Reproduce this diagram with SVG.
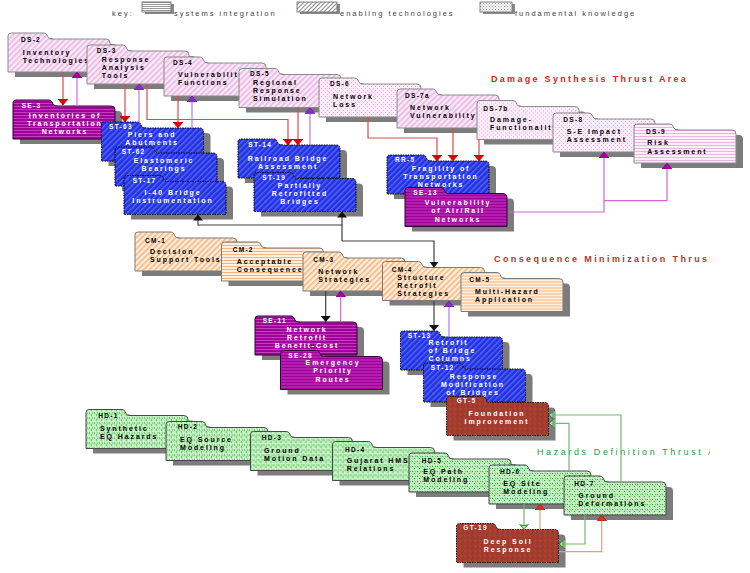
<svg xmlns="http://www.w3.org/2000/svg" xmlns:xlink="http://www.w3.org/1999/xlink" width="750" height="573" viewBox="0 0 750 573">
<defs>
<style>
text{font-family:"Liberation Sans",Arial,sans-serif;font-weight:bold;}
.lbl{font-size:6.5px;letter-spacing:1.3px;}
.t{font-size:7px;letter-spacing:1.9px;}
.w{fill:#ffffff;}
.k{fill:#000000;}
.c{text-anchor:middle;}
.sh{fill:#7c7c7c;}
.ds-diag{fill:url(#pinkDiag);stroke:#8a8a8a;stroke-width:1;}
.ds-dot{fill:url(#pinkDot);stroke:#8a8a8a;stroke-width:1;}
.ds-hor{fill:url(#pinkHoriz);stroke:#8a8a8a;stroke-width:1;}
.se{fill:url(#magHoriz);stroke:#300030;stroke-width:1;}
.st{fill:url(#blueDiag);stroke:#000010;stroke-width:1;stroke-dasharray:1.5 1;}
.cm-diag{fill:url(#peachDiag);stroke:#7a7a7a;stroke-width:1;}
.cm-hor{fill:url(#peachHoriz);stroke:#7a7a7a;stroke-width:1;}
.hd{fill:url(#greenDot);stroke:#4a4a4a;stroke-width:1;}
.gt{fill:url(#brownDot);stroke:#1a0000;stroke-width:1;stroke-dasharray:1.5 1;}
.title{font-size:9px;letter-spacing:2.3px;}
.key{font-weight:normal;font-size:7.5px;letter-spacing:2px;fill:#444444;}
#connectors path{fill:none;stroke-width:1.2;}
.red{stroke:#e04848;marker-end:url(#mRed);}
.vio{stroke:#b27ae6;marker-end:url(#mVio);}
.mag{stroke:#d464d4;marker-end:url(#mMag);}
.blk{stroke:#404040;marker-end:url(#mBlk);}
.grn{stroke:#74b874;marker-end:url(#mGrn);}
.brn{stroke:#d8a080;marker-end:url(#mBrn);}
</style>
<path id="folder" d="M0,3 Q0,0 3,0 H36 Q38,0 39,2 L40,4 Q41,6 43,6 H98 Q102,6 102,10 V39 H0 Z"/>
<pattern id="pinkDiag" width="4" height="4" patternUnits="userSpaceOnUse" patternTransform="rotate(-45)"><rect width="4" height="4" fill="#fbeaf8"/><rect width="4" height="1.6" fill="#e9b6e3"/></pattern>
<pattern id="pinkDot" width="4" height="4" patternUnits="userSpaceOnUse"><rect width="4" height="4" fill="#fbedf9"/><rect x="0" y="0" width="1" height="1" fill="#e2aada"/><rect x="2" y="2" width="1" height="1" fill="#e2aada"/></pattern>
<pattern id="pinkHoriz" width="3" height="3" patternUnits="userSpaceOnUse"><rect width="3" height="3" fill="#fdf0fa"/><rect width="3" height="1" fill="#e8b4e2"/></pattern>
<pattern id="magHoriz" width="3" height="3" patternUnits="userSpaceOnUse"><rect width="3" height="3" fill="#a0009a"/><rect width="3" height="1" fill="#c43cc0"/></pattern>
<pattern id="blueDiag" width="4" height="4" patternUnits="userSpaceOnUse" patternTransform="rotate(-45)"><rect width="4" height="4" fill="#2232e2"/><rect width="4" height="1.4" fill="#5566f5"/></pattern>
<pattern id="peachDiag" width="4" height="4" patternUnits="userSpaceOnUse" patternTransform="rotate(-45)"><rect width="4" height="4" fill="#ffeedd"/><rect width="4" height="1.6" fill="#f6b67e"/></pattern>
<pattern id="peachHoriz" width="3" height="3" patternUnits="userSpaceOnUse"><rect width="3" height="3" fill="#fff0e0"/><rect width="3" height="1" fill="#f4b47c"/></pattern>
<pattern id="greenDot" width="5" height="5" patternUnits="userSpaceOnUse"><rect width="5" height="5" fill="#b6eeb6"/><rect x="0" y="0" width="1" height="1" fill="#3a9a3a"/><rect x="2" y="1" width="1" height="1" fill="#ffffff"/><rect x="3" y="3" width="1" height="1" fill="#3a9a3a"/><rect x="1" y="3" width="1" height="1" fill="#6cc06c"/><rect x="4" y="2" width="1" height="1" fill="#ffffff"/></pattern>
<pattern id="brownDot" width="5" height="5" patternUnits="userSpaceOnUse"><rect width="5" height="5" fill="#a63e28"/><rect x="0" y="0" width="1" height="1" fill="#6a2e8a"/><rect x="3" y="2" width="1" height="1" fill="#dc4a34"/><rect x="1" y="3" width="1" height="1" fill="#7a2a6a"/></pattern>
<pattern id="keyHoriz" width="2" height="2" patternUnits="userSpaceOnUse"><rect width="2" height="2" fill="#ffffff"/><rect width="2" height="1" fill="#9a9a9a"/></pattern>
<pattern id="keyDiag" width="3" height="3" patternUnits="userSpaceOnUse" patternTransform="rotate(-45)"><rect width="3" height="3" fill="#ffffff"/><rect width="3" height="1" fill="#8a8a8a"/></pattern>
<pattern id="keyDot" width="3" height="3" patternUnits="userSpaceOnUse"><rect width="3" height="3" fill="#ffffff"/><rect x="0" y="0" width="1" height="1" fill="#9a9a9a"/><rect x="1.5" y="1.5" width="1" height="1" fill="#9a9a9a"/></pattern>
<marker id="mRed" viewBox="0 0 6 10" refX="6" refY="5" markerWidth="6" markerHeight="10" markerUnits="userSpaceOnUse" orient="auto"><path d="M0,0 L6,5 L0,10 Z" fill="#e40000" stroke="#900000" stroke-width="0.6"/></marker>
<marker id="mVio" viewBox="0 0 6 10" refX="6" refY="5" markerWidth="6" markerHeight="10" markerUnits="userSpaceOnUse" orient="auto"><path d="M0,0 L6,5 L0,10 Z" fill="#8a2ad0" stroke="#5a108a" stroke-width="0.6"/></marker>
<marker id="mMag" viewBox="0 0 6 10" refX="6" refY="5" markerWidth="6" markerHeight="10" markerUnits="userSpaceOnUse" orient="auto"><path d="M0,0 L6,5 L0,10 Z" fill="#a800a8" stroke="#700070" stroke-width="0.6"/></marker>
<marker id="mBlk" viewBox="0 0 6 10" refX="6" refY="5" markerWidth="6" markerHeight="10" markerUnits="userSpaceOnUse" orient="auto"><path d="M0,0 L6,5 L0,10 Z" fill="#111111"/></marker>
<marker id="mGrn" viewBox="0 0 6 10" refX="6" refY="5" markerWidth="6" markerHeight="10" markerUnits="userSpaceOnUse" orient="auto"><path d="M0,0 L6,5 L0,10 Z M2,2 V8" fill="#a8e0a8" stroke="#2a7a2a" stroke-width="0.8"/></marker>
<marker id="mBrn" viewBox="0 0 6 10" refX="6" refY="5" markerWidth="6" markerHeight="10" markerUnits="userSpaceOnUse" orient="auto"><path d="M0,0 L6,5 L0,10 Z" fill="#e03020" stroke="#902010" stroke-width="0.6"/></marker>
<clipPath id="clipT"><rect x="0" y="0" width="710" height="573"/></clipPath>
</defs>
<rect width="750" height="573" fill="#ffffff"/>

<g id="key">
<text class="key" x="112" y="15.5">key:</text>
<rect x="145" y="4" width="29" height="10" fill="#8a8a8a"/>
<rect x="142" y="2" width="29" height="10" fill="url(#keyHoriz)" stroke="#666666" stroke-width="0.8"/>
<text class="key" x="174" y="15.5">systems integration</text>
<rect x="300" y="4" width="40" height="10" fill="#8a8a8a"/>
<rect x="297" y="2" width="40" height="10" fill="url(#keyDiag)" stroke="#666666" stroke-width="0.8"/>
<text class="key" x="340" y="15.5">enabling technologies</text>
<rect x="483" y="4" width="32" height="10" fill="#8a8a8a"/>
<rect x="480" y="2" width="32" height="10" fill="url(#keyDot)" stroke="#666666" stroke-width="0.8"/>
<text class="key" x="515" y="15.5">fundamental knowledge</text>
</g>

<g id="titles">
<text class="title" x="491" y="82" fill="#e02020">Damage Synthesis Thrust Area</text>
<text class="title" x="494" y="262" fill="#b03a22" clip-path="url(#clipT)" style="letter-spacing:2.4px">Consequence Minimization Thrust</text>
<text class="title" x="537" y="455" fill="#2a9a3a" clip-path="url(#clipT)" style="font-weight:normal;letter-spacing:2.6px">Hazards Definition Thrust A</text>
</g>

<g id="DS-2"><use xlink:href="#folder" class="sh" x="15" y="38"/><use xlink:href="#folder" class="ds-diag" x="8" y="33"/>
<text class="lbl" x="21" y="41.5">DS-2</text><text class="t" x="22.7" y="54.5">Inventory</text><text class="t" x="22.7" y="62.5">Technologies</text></g>
<g id="DS-3"><use xlink:href="#folder" class="sh" x="94" y="50"/><use xlink:href="#folder" class="ds-diag" x="87" y="45"/>
<text class="lbl" x="96.7" y="53">DS-3</text><text class="t" x="101.7" y="61.5">Response</text><text class="t" x="101.7" y="69.5">Analysis</text><text class="t" x="101.7" y="77.5">Tools</text></g>
<g id="DS-4"><use xlink:href="#folder" class="sh" x="171" y="62"/><use xlink:href="#folder" class="ds-diag" x="164" y="57"/>
<text class="lbl" x="173" y="64.5">DS-4</text><text class="t" x="178" y="76.5">Vulnerability</text><text class="t" x="178" y="85">Functions</text></g>
<g id="DS-5"><use xlink:href="#folder" class="sh" x="246" y="73.5"/><use xlink:href="#folder" class="ds-diag" x="239" y="68.5"/>
<text class="lbl" x="250" y="75.5">DS-5</text><text class="t" x="253" y="84.5">Regional</text><text class="t" x="253" y="92.5">Response</text><text class="t" x="253" y="100.5">Simulation</text></g>
<g id="DS-6"><use xlink:href="#folder" class="sh" x="326" y="83"/><use xlink:href="#folder" class="ds-dot" x="319" y="78"/>
<text class="lbl" x="330" y="86">DS-6</text><text class="t" x="333" y="99">Network</text><text class="t" x="333" y="107">Loss</text></g>
<g id="DS-7a"><use xlink:href="#folder" class="sh" x="404" y="94"/><use xlink:href="#folder" class="ds-diag" x="397" y="89"/>
<text class="lbl" x="405" y="97.5">DS-7a</text><text class="t" x="410" y="110">Network</text><text class="t" x="410" y="118">Vulnerability</text></g>
<g id="DS-7b"><use xlink:href="#folder" class="sh" x="484" y="105.5"/><use xlink:href="#folder" class="ds-dot" x="477" y="100.5"/>
<text class="lbl" x="483.3" y="111">DS-7b</text><text class="t" x="490" y="122">Damage-</text><text class="t" x="490" y="130">Functionality</text></g>
<g id="DS-8"><use xlink:href="#folder" class="sh" x="560" y="118"/><use xlink:href="#folder" class="ds-dot" x="553" y="113"/>
<text class="lbl" x="563.3" y="122">DS-8</text><text class="t" x="566.7" y="133.5">S-E Impact</text><text class="t" x="566.7" y="142">Assessment</text></g>
<g id="DS-9"><use xlink:href="#folder" class="sh" x="641" y="129"/><use xlink:href="#folder" class="ds-hor" x="634" y="124"/>
<text class="lbl" x="646" y="133.5">DS-9</text><text class="t" x="647.3" y="145.2">Risk</text><text class="t" x="647.3" y="153.5">Assessment</text></g>

<g id="SE-3"><use xlink:href="#folder" class="sh" x="20" y="105"/><use xlink:href="#folder" class="se" x="13" y="100"/>
<text class="lbl w" x="21.7" y="107.5">SE-3</text><text class="t w c" x="65" y="117.5">Inventories of</text><text class="t w c" x="65" y="125.5">Transportation</text><text class="t w c" x="65" y="133.5">Networks</text></g>

<g id="ST-63"><use xlink:href="#folder" class="sh" x="108.5" y="127"/><use xlink:href="#folder" class="st" x="101.5" y="122"/>
<text class="lbl w" x="109" y="129">ST-63</text><text class="t w c" x="152" y="137">Piers and</text><text class="t w c" x="152" y="145">Abutments</text></g>
<g id="ST-62"><use xlink:href="#folder" class="sh" x="122" y="152"/><use xlink:href="#folder" class="st" x="115" y="147"/>
<text class="lbl w" x="121.7" y="154">ST-62</text><text class="t w c" x="164" y="162.5">Elastomeric</text><text class="t w c" x="164" y="170.5">Bearings</text></g>
<g id="ST-17"><use xlink:href="#folder" class="sh" x="131" y="180.5"/><use xlink:href="#folder" class="st" x="124" y="175.5"/>
<text class="lbl w" x="132.7" y="182.5">ST-17</text><text class="t w c" x="173" y="195">I-40 Bridge</text><text class="t w c" x="173" y="203">Instrumentation</text></g>
<g id="ST-14"><use xlink:href="#folder" class="sh" x="245" y="144"/><use xlink:href="#folder" class="st" x="238" y="139"/>
<text class="lbl w" x="248.3" y="146.5">ST-14</text><text class="t w c" x="288" y="161">Railroad Bridge</text><text class="t w c" x="288" y="169">Assessment</text></g>
<g id="ST-19"><use xlink:href="#folder" class="sh" x="261" y="177.5"/><use xlink:href="#folder" class="st" x="254" y="172.5"/>
<text class="lbl w" x="262.3" y="180">ST-19</text><text class="t w c" x="300" y="188">Partially</text><text class="t w c" x="300" y="196.2">Retrofitted</text><text class="t w c" x="300" y="204.3">Bridges</text></g>
<g id="RR-5"><use xlink:href="#folder" class="sh" x="394" y="160"/><use xlink:href="#folder" class="st" x="387" y="155"/>
<text class="lbl w" x="395" y="162">RR-5</text><text class="t w c" x="441" y="170.5">Fragility of</text><text class="t w c" x="441" y="179">Transportation</text><text class="t w c" x="441" y="187">Networks</text></g>
<g id="SE-13"><use xlink:href="#folder" class="sh" x="412" y="192.5"/><use xlink:href="#folder" class="se" x="405" y="187.5"/>
<text class="lbl w" x="413.3" y="195">SE-13</text><text class="t w c" x="458" y="205.3">Vulnerability</text><text class="t w c" x="458" y="213.3">of Air/Rail</text><text class="t w c" x="458" y="221.5">Networks</text></g>

<g id="CM-1"><use xlink:href="#folder" class="sh" x="142" y="237"/><use xlink:href="#folder" class="cm-diag" x="135" y="232"/>
<text class="lbl" x="145" y="242.5">CM-1</text><text class="t" x="150" y="254.2">Decision</text><text class="t" x="150" y="262">Support Tools</text></g>
<g id="CM-2"><use xlink:href="#folder" class="sh" x="228.5" y="247"/><use xlink:href="#folder" class="cm-hor" x="221.5" y="242"/>
<text class="lbl" x="232.7" y="252">CM-2</text><text class="t" x="236.7" y="263.5">Acceptable</text><text class="t" x="236.7" y="272">Consequences</text></g>
<g id="CM-3"><use xlink:href="#folder" class="sh" x="310" y="257"/><use xlink:href="#folder" class="cm-diag" x="303" y="252"/>
<text class="lbl" x="313.3" y="262">CM-3</text><text class="t" x="318.3" y="273.5">Network</text><text class="t" x="318.3" y="282">Strategies</text></g>
<g id="CM-4"><use xlink:href="#folder" class="sh" x="389.5" y="266.5"/><use xlink:href="#folder" class="cm-diag" x="382.5" y="261.5"/>
<text class="lbl" x="391.7" y="272">CM-4</text><text class="t" x="397.3" y="279.5">Structure</text><text class="t" x="397.3" y="287.5">Retrofit</text><text class="t" x="397.3" y="295.5">Strategies</text></g>
<g id="CM-5"><use xlink:href="#folder" class="sh" x="468" y="277.5"/><use xlink:href="#folder" class="cm-hor" x="461" y="272.5"/>
<text class="lbl" x="469.3" y="282">CM-5</text><text class="t" x="475" y="294">Multi-Hazard</text><text class="t" x="475" y="302.2">Application</text></g>

<g id="SE-11"><use xlink:href="#folder" class="sh" x="262" y="321"/><use xlink:href="#folder" class="se" x="255" y="316"/>
<text class="lbl w" x="262.7" y="323.3">SE-11</text><text class="t w c" x="307" y="332">Network</text><text class="t w c" x="307" y="340.2">Retrofit</text><text class="t w c" x="307" y="348.3">Benefit-Cost</text></g>
<g id="SE-28"><use xlink:href="#folder" class="sh" x="287.5" y="355.5"/><use xlink:href="#folder" class="se" x="280.5" y="350.5"/>
<text class="lbl w" x="288.3" y="357.7">SE-28</text><text class="t w c" x="333" y="365">Emergency</text><text class="t w c" x="333" y="373.3">Priority</text><text class="t w c" x="333" y="381.5">Routes</text></g>

<g id="ST-13"><use xlink:href="#folder" class="sh" x="407.5" y="336"/><use xlink:href="#folder" class="st" x="400.5" y="331"/>
<text class="lbl w" x="407.7" y="338.3">ST-13</text><text class="t w" x="428.5" y="345.3">Retrofit</text><text class="t w" x="428.5" y="353.3">of Bridge</text><text class="t w" x="428.5" y="361">Columns</text></g>
<g id="ST-12"><use xlink:href="#folder" class="sh" x="430.5" y="368"/><use xlink:href="#folder" class="st" x="423.5" y="363"/>
<text class="lbl w" x="430.7" y="370.3">ST-12</text><text class="t w c" x="474" y="378.5">Response</text><text class="t w c" x="473" y="386.8">Modification</text><text class="t w c" x="473" y="394.8">of Bridges</text></g>
<g id="GT-5"><use xlink:href="#folder" class="sh" x="453.5" y="401.5"/><use xlink:href="#folder" class="gt" x="446.5" y="396.5"/>
<text class="lbl w" x="456.7" y="403">GT-5</text><text class="t w c" x="497" y="416.3">Foundation</text><text class="t w c" x="497" y="424">Improvement</text></g>

<g id="HD-1"><use xlink:href="#folder" class="sh" x="93" y="414.5"/><use xlink:href="#folder" class="hd" x="86" y="409.5"/>
<text class="lbl" x="98.3" y="418.3">HD-1</text><text class="t" x="100" y="431">Synthetic</text><text class="t" x="100" y="438.7">EQ Hazards</text></g>
<g id="HD-2"><use xlink:href="#folder" class="sh" x="173" y="426.5"/><use xlink:href="#folder" class="hd" x="166" y="421.5"/>
<text class="lbl" x="177.7" y="429.3">HD-2</text><text class="t" x="180" y="442">EQ Source</text><text class="t" x="180" y="450">Modeling</text></g>
<g id="HD-3"><use xlink:href="#folder" class="sh" x="257.5" y="436.5"/><use xlink:href="#folder" class="hd" x="250.5" y="431.5"/>
<text class="lbl" x="261.7" y="440.3">HD-3</text><text class="t" x="264" y="452.7">Ground</text><text class="t" x="264" y="461">Motion Data</text></g>
<g id="HD-4"><use xlink:href="#folder" class="sh" x="339.5" y="446.5"/><use xlink:href="#folder" class="hd" x="332.5" y="441.5"/>
<text class="lbl" x="345" y="451.5">HD-4</text><text class="t" x="346.7" y="463.3">Gujarat HMS</text><text class="t" x="346.7" y="471">Relations</text></g>
<g id="HD-5"><use xlink:href="#folder" class="sh" x="416" y="458"/><use xlink:href="#folder" class="hd" x="409" y="453"/>
<text class="lbl" x="421.7" y="462.5">HD-5</text><text class="t" x="423.3" y="474">EQ Path</text><text class="t" x="423.3" y="482">Modeling</text></g>
<g id="HD-6"><use xlink:href="#folder" class="sh" x="496" y="470"/><use xlink:href="#folder" class="hd" x="489" y="465"/>
<text class="lbl" x="500" y="474.3">HD-6</text><text class="t" x="503.3" y="486">EQ Site</text><text class="t" x="503.3" y="493.8">Modeling</text></g>
<g id="HD-7"><use xlink:href="#folder" class="sh" x="571" y="481"/><use xlink:href="#folder" class="hd" x="564" y="476"/>
<text class="lbl" x="574.3" y="486">HD-7</text><text class="t" x="578.3" y="498.3">Ground</text><text class="t" x="578.3" y="506">Deformations</text></g>
<g id="GT-19"><use xlink:href="#folder" class="sh" x="463.5" y="528.5"/><use xlink:href="#folder" class="gt" x="456.5" y="523.5"/>
<text class="lbl w" x="463.3" y="530.3">GT-19</text><text class="t w c" x="508" y="543.7">Deep Soil</text><text class="t w c" x="508" y="551.7">Response</text></g>

<g id="connectors">
<path class="red" d="M63,72 V105"/>
<path class="mag" d="M77,106 V72" style="stroke:#d070e0"/>
<path class="red" d="M125,84 V122"/>
<path class="vio" d="M139,122 V84"/>
<path class="red" d="M147,84 V119.5 H288 V145"/>
<path class="red" d="M178,96 V128"/>
<path class="vio" d="M192,128 V96"/>
<path class="red" d="M298,107.5 V145"/>
<path class="vio" d="M310,145 V107.5"/>
<path class="red" d="M368,117 V138 H437 V161"/>
<path class="red" d="M453,128 V161"/>
<path class="red" d="M479,139.5 V161"/>
<path class="mag" d="M509,212 H604 V152"/>
<path class="mag" d="M604,200.7 H667 V163"/>
<path class="blk" d="M342,241 V225 H198 V214.5"/>
<path class="blk" d="M342,225 V211.5"/>
<path class="blk" d="M342,241 H434 V267.5"/>
<path class="blk" d="M434,301 V331"/>
<path class="vio" d="M449,337 V301"/>
<path class="blk" d="M325.7,291 V322"/>
<path class="mag" d="M340.7,322 V291"/>
<path class="grn" d="M621,482 V415 H549"/>
<path class="grn" d="M569,471 V423.3 H549"/>
<path class="grn" d="M524,504 V529.5"/>
<path class="brn" d="M540,529.5 V504"/>
<path class="grn" d="M585,515 V544 H559"/>
<path class="brn" d="M559,551.7 H601.7 V515"/>
</g>
</svg>
